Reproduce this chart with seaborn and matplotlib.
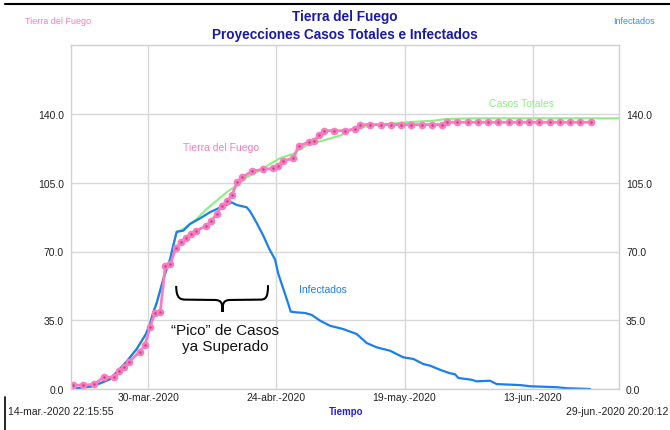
import pandas as pd
import matplotlib.pyplot as plt
import seaborn as sns
from matplotlib.lines import Line2D
from matplotlib.path import Path
from matplotlib.patches import PathPatch

# Datos
tdf_fechas = ['2020-03-15', '2020-03-17', '2020-03-19', '2020-03-21', '2020-03-23', '2020-03-24',
              '2020-03-25', '2020-03-26', '2020-03-28', '2020-03-29', '2020-03-30', '2020-03-31',
              '2020-04-01', '2020-04-02', '2020-04-03', '2020-04-04', '2020-04-05', '2020-04-06',
              '2020-04-07', '2020-04-08', '2020-04-10', '2020-04-11', '2020-04-12', '2020-04-13',
              '2020-04-14', '2020-04-15', '2020-04-16', '2020-04-17', '2020-04-19', '2020-04-21',
              '2020-04-23', '2020-04-24', '2020-04-25', '2020-04-27', '2020-04-28', '2020-04-30',
              '2020-05-01', '2020-05-02', '2020-05-03', '2020-05-05', '2020-05-07', '2020-05-09',
              '2020-05-10', '2020-05-12', '2020-05-14', '2020-05-16', '2020-05-18', '2020-05-20',
              '2020-05-22', '2020-05-24', '2020-05-26', '2020-05-27', '2020-05-29', '2020-05-31',
              '2020-06-02', '2020-06-04', '2020-06-06', '2020-06-08', '2020-06-10', '2020-06-12',
              '2020-06-14', '2020-06-16', '2020-06-18', '2020-06-20', '2020-06-22', '2020-06-24']
tdf_casos = [2, 2, 2.3, 6, 6, 9,
             11, 14, 19, 22.2, 31.5, 38.7,
             39, 62.8, 63.6, 71.6, 74.7, 77,
             79, 80.6, 83, 85.7, 89.1, 93.2,
             95.6, 98.8, 105.2, 107.8, 111, 111.8,
             112.3, 113.7, 116.2, 117.4, 123.8, 125.6,
             126.4, 129.3, 131.5, 131.5, 131.5, 132.4,
             134.6, 134.6, 134.6, 134.6, 134.6, 134.6,
             134.6, 134.6, 134.6, 135.8, 135.8, 135.8,
             135.8, 135.8, 135.8, 135.8, 135.8, 135.8,
             135.8, 135.8, 135.8, 135.8, 135.8, 135.8]

inf_fechas = ['2020-03-14 22:16', '2020-03-19 05:00', '2020-03-22 13:00', '2020-03-25 19:00',
              '2020-03-27 18:00', '2020-03-29 13:00', '2020-03-30 08:00', '2020-03-30 23:30',
              '2020-03-31 16:00', '2020-04-01 22:30', '2020-04-03 06:00', '2020-04-03 21:00',
              '2020-04-04 13:00', '2020-04-05 20:00', '2020-04-07 03:30', '2020-04-09 10:30',
              '2020-04-11 01:00', '2020-04-12 08:30', '2020-04-13 15:30', '2020-04-15 07:00',
              '2020-04-16 06:00', '2020-04-18 05:00', '2020-04-18 20:30', '2020-04-20 04:00',
              '2020-04-21 11:00', '2020-04-22 16:00', '2020-04-23 17:30', '2020-04-24 09:00',
              '2020-04-25 08:30', '2020-04-26 08:00', '2020-04-26 19:00', '2020-04-27 23:00',
              '2020-04-29 14:00', '2020-04-30 21:30', '2020-05-02 12:30', '2020-05-04 11:00',
              '2020-05-07 01:30', '2020-05-09 16:00', '2020-05-11 15:00', '2020-05-13 14:00',
              '2020-05-16 04:00', '2020-05-18 18:30', '2020-05-20 17:30', '2020-05-22 16:00',
              '2020-05-23 23:30', '2020-05-25 22:00', '2020-05-27 18:00', '2020-05-28 20:30',
              '2020-05-29 12:00', '2020-06-01 02:30', '2020-06-02 02:00', '2020-06-04 16:30',
              '2020-06-05 23:30', '2020-06-10 13:00', '2020-06-12 12:00', '2020-06-17 17:00',
              '2020-06-19 15:30', '2020-06-24 05:00']
inf_valores = [0, 1.4, 5, 14,
               20.4, 28, 33, 39,
               44, 56, 66, 73,
               80, 80.6, 84, 87.4,
               90, 91.6, 93, 95,
               93.7, 92.5, 90.5, 84.5,
               78, 71, 66, 58.6,
               51, 43.3, 39.4, 39,
               38.7, 37.7, 34.8, 32.2,
               30.5, 28, 23.4, 21.2,
               19.5, 16.1, 15.3, 12.7,
               11.9, 9.8, 8.1, 7.5,
               5.6, 4.7, 3.9, 4.2,
               2.5, 2.0, 1.4, 0.9,
               0.4, 0]

tot_fechas = ['2020-03-14 22:16', '2020-03-19 05:00', '2020-03-22 13:00', '2020-03-25 19:00',
              '2020-03-27 18:00', '2020-03-29 13:00', '2020-03-30 08:00', '2020-03-30 23:30',
              '2020-03-31 16:00', '2020-04-01 22:30', '2020-04-03 06:00', '2020-04-03 21:00',
              '2020-04-04 13:00', '2020-04-05 20:00', '2020-04-08 11:00', '2020-04-10 09:30',
              '2020-04-12 08:30', '2020-04-14 07:30', '2020-04-16 06:00', '2020-04-18 05:00',
              '2020-04-20 19:30', '2020-04-22 18:00', '2020-04-24 17:00', '2020-04-27 07:00',
              '2020-04-28 12:00', '2020-04-29 22:00', '2020-05-01 21:00', '2020-05-06 10:00',
              '2020-05-09 00:00', '2020-05-12 06:30', '2020-05-15 12:30', '2020-05-19 10:30',
              '2020-05-24 15:00', '2020-05-27 05:45', '2020-06-02 02:00', '2020-06-29 20:20']
tot_valores = [0, 1.4, 5, 14,
               20.4, 28, 33, 39,
               44, 56, 66, 73,
               80, 81.5, 86.6, 91.6,
               95.9, 100.2, 103.5, 107.8,
               111.3, 114.5, 117.5, 119.7,
               122, 124, 125.6, 129,
               132.4, 134, 134.9, 135.8,
               136.6, 137.5, 137.8, 137.8]

y_ticks = [0, 35, 70, 105, 140]
x_tick_fechas = ['2020-03-30', '2020-04-24', '2020-05-19', '2020-06-13']
x_tick_labels = ['30-mar.-2020', '24-abr.-2020', '19-may.-2020', '13-jun.-2020']
inicio = '2020-03-14 22:15:55'
fin = '2020-06-29 20:20:12'

rosa = '#fa7cc0'
azul = '#1a7ff0'
verde = '#8cf080'

sns.set_theme(style='white')
plt.rcParams['font.family'] = ['Liberation Sans', 'DejaVu Sans']

tdf = pd.DataFrame({'fecha': pd.to_datetime(tdf_fechas) + pd.Timedelta(hours=8), 'casos': tdf_casos})
inf = pd.DataFrame({'fecha': pd.to_datetime(inf_fechas), 'valor': inf_valores})
tot = pd.DataFrame({'fecha': pd.to_datetime(tot_fechas), 'valor': tot_valores})

fig = plt.figure(figsize=(6.7, 4.31), dpi=100)
ax = fig.add_axes([71 / 670, 41 / 431, 548 / 670, 343.75 / 431])

sns.lineplot(data=tot, x='fecha', y='valor', ax=ax, color=verde, lw=1.5, estimator=None)
sns.lineplot(data=inf, x='fecha', y='valor', ax=ax, color=azul, lw=1.6, estimator=None)
sns.lineplot(data=tdf, x='fecha', y='casos', ax=ax, color=rosa, lw=2, estimator=None,
             marker='o', markersize=5.5, markeredgewidth=0)
ax.plot(tdf['fecha'], tdf['casos'], ls='none', marker='o', markersize=0.8, color='#b84a85')

ax.set_xlim(pd.Timestamp(inicio), pd.Timestamp(fin))
ax.set_ylim(0, 175)
ax.set_yticks(y_ticks)
ax.set_yticklabels([f'{v:.1f}' for v in y_ticks])
ax.set_xticks(pd.to_datetime(x_tick_fechas))
ax.set_xticklabels(x_tick_labels)
ax.tick_params(axis='y', labelleft=True, labelright=True, length=0, pad=5, labelsize=7.5, colors='#222222')
ax.tick_params(axis='x', length=0, pad=2, labelsize=7.5, colors='#222222')
ax.set_xlabel('')
ax.set_ylabel('')
ax.grid(True, color='#d8d8d8', lw=1)
for s in ax.spines.values():
    s.set_color('#d0d0d0')
    s.set_linewidth(1)

# etiquetas dentro del grafico
ax.text(0.274, 0.703, 'Tierra del Fuego', color=rosa, fontsize=7.5, ha='center', va='center', transform=ax.transAxes)
ax.text(0.822, 0.832, 'Casos Totales', color=verde, fontsize=7.5, ha='center', va='center', transform=ax.transAxes)
ax.text(0.459, 0.291, 'Infectados', color=azul, fontsize=7.5, ha='center', va='center', transform=ax.transAxes)

# llave y comentario
verts = [(0.192, 0.300), (0.192, 0.262), (0.200, 0.260), (0.210, 0.260),
         (0.262, 0.259),
         (0.2765, 0.259), (0.2765, 0.245), (0.2765, 0.224),
         (0.2765, 0.245), (0.2765, 0.259), (0.291, 0.259),
         (0.345, 0.260),
         (0.355, 0.260), (0.3595, 0.265), (0.3595, 0.302)]
codes = [Path.MOVETO, Path.CURVE4, Path.CURVE4, Path.CURVE4,
         Path.LINETO,
         Path.CURVE4, Path.CURVE4, Path.CURVE4,
         Path.CURVE4, Path.CURVE4, Path.CURVE4,
         Path.LINETO,
         Path.CURVE4, Path.CURVE4, Path.CURVE4]
ax.add_patch(PathPatch(Path(verts, codes), transform=ax.transAxes, fill=False, ec='black', lw=1.5))
ax.text(0.281, 0.148, '\u201cPico\u201d de Casos\nya Superado', color='#111111', fontsize=11,
        ha='center', va='center', linespacing=1.15, transform=ax.transAxes)

# titulos y textos del marco
fig.text(345 / 670, 1 - 17 / 431, 'Tierra del Fuego', color='#1a1aa8', fontsize=9.8, fontweight='bold', ha='center', va='center')
fig.text(345 / 670, 1 - 35 / 431, 'Proyecciones Casos Totales e Infectados', color='#1a1aa8', fontsize=9.8, fontweight='bold', ha='center', va='center')
fig.text(58 / 670, 1 - 22 / 431, 'Tierra del Fuego', color=rosa, fontsize=6.5, ha='center', va='center')
fig.text(655 / 670, 1 - 22 / 431, 'Infectados', color='#3090f0', fontsize=6.5, ha='right', va='center')
fig.text(8 / 670, 1 - 412 / 431, '14-mar.-2020 22:15:55', color='#222222', fontsize=7.5, ha='left', va='center')
fig.text(346 / 670, 1 - 412 / 431, 'Tiempo', color='#2020e0', fontsize=7, fontweight='bold', ha='center', va='center')
fig.text(668 / 670, 1 - 412 / 431, '29-jun.-2020 20:20:12', color='#222222', fontsize=7.5, ha='right', va='center')
fig.add_artist(Line2D([5 / 670, 1.0], [1 - 5 / 431, 1 - 5 / 431], color='black', lw=1.5))
fig.add_artist(Line2D([5 / 670, 5 / 670], [1 - 398 / 431, 0.0], color='black', lw=1.2))

fig.savefig('out.png', dpi=100)
